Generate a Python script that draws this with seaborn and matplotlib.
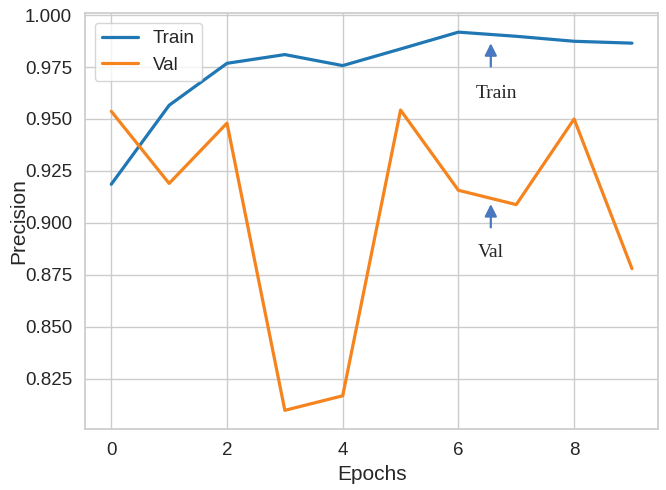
import matplotlib
matplotlib.use("Agg")
import matplotlib.pyplot as plt
import seaborn as sns
import pandas as pd

# Per-epoch precision for the training and validation sets
epochs = list(range(10))
train_precision = [0.9186, 0.9566, 0.9768, 0.9810, 0.9757, 0.9837, 0.9918, 0.9898, 0.9874, 0.9865]
val_precision = [0.9537, 0.9190, 0.9480, 0.8098, 0.8168, 0.9543, 0.9157, 0.9088, 0.9500, 0.8780]
series_names = ["Train", "Val"]

sns.set_theme(style="whitegrid", font_scale=1.2)
plt.rcParams["font.family"] = ["Liberation Sans", "DejaVu Sans"]

df = pd.DataFrame({
    "Epochs": epochs * 2,
    "Precision": train_precision + val_precision,
    "Split": [series_names[0]] * len(epochs) + [series_names[1]] * len(epochs),
})

fig = plt.figure(figsize=(6.66, 4.90), dpi=100)
ax = fig.add_axes([0.128, 0.124, 0.860, 0.849])

sns.lineplot(data=df, x="Epochs", y="Precision", hue="Split",
             palette=["#1f77b4", "#f5841f"], linewidth=2.3, ax=ax)

ax.set_xlabel("Epochs", fontsize=15)
ax.set_ylabel("Precision", fontsize=15)
ax.tick_params(labelsize=13.5)
leg = ax.legend(loc="upper left", title=None, fontsize=13.5, handlelength=1.9)
ax.yaxis.set_label_coords(-0.1, 0.5)

# Arrow callouts naming each curve
arrow_kw = dict(arrowstyle="-|>", color="#4a78c0", lw=1.6, mutation_scale=18)
serif = ["Liberation Serif", "DejaVu Serif"]
ax.annotate("", xy=(6.56, 0.9878), xytext=(6.56, 0.9739), arrowprops=arrow_kw)
ax.text(6.66, 0.9625, "Train", ha="center", va="center", fontsize=14, family=serif)
ax.annotate("", xy=(6.56, 0.9104), xytext=(6.56, 0.8965), arrowprops=arrow_kw)
ax.text(6.56, 0.8856, "Val", ha="center", va="center", fontsize=14, family=serif)

fig.savefig("out.png", dpi=100)
